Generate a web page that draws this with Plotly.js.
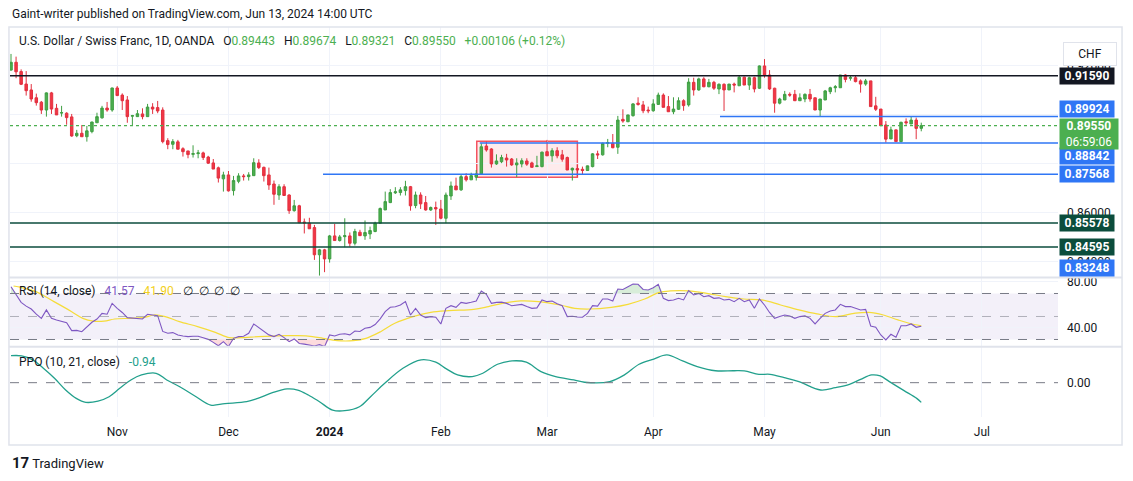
<!DOCTYPE html>
<html><head><meta charset="utf-8">
<script src="https://cdn.plot.ly/plotly-3.0.1.min.js"></script>
<style>html,body{margin:0;padding:0;background:#fff;}#chart{width:1133px;height:481px;}</style>
</head><body><div id="chart"></div>
<script>
// ---- Daily candles USD/CHF (Oct 3 2023 .. Jun 13 2024, trading days) ----
const opens=[.9182,.9214,.9176,.9125,.9101,.9069,.9051,.9019,.9089,.9026,
.9007,.9006,.8991,.8914,.8924,.8910,.8931,.8967,.8987,.9027,
.9019,.9109,.9080,.9060,.8994,.8992,.9003,.8992,.9031,.9029,
.9019,.8894,.8879,.8889,.8861,.8852,.8838,.8841,.8844,.8827,
.8803,.8783,.8738,.8754,.8690,.8728,.8750,.8747,.8751,.8803,
.8785,.8754,.8717,.8672,.8706,.8672,.8608,.8628,.8562,.8557,
.8539,.8428,.8448,.8411,.8505,.8486,.8502,.8505,.8475,.8520,
.8505,.8513,.8523,.8557,.8611,.8641,.8681,.8682,.8690,.8706,
.8629,.8672,.8641,.8611,.8621,.8615,.8577,.8668,.8709,.8693,
.8747,.8734,.8745,.8758,.8872,.8860,.8799,.8808,.8823,.8819,
.8795,.8799,.8811,.8803,.8788,.8788,.8849,.8832,.8853,.8836,
.8825,.8774,.8780,.8777,.8772,.8788,.8840,.8836,.8883,.8883,
.8867,.8981,.8971,.8996,.9047,.9040,.9019,.9016,.9042,.9080,
.9033,.9012,.9022,.9057,.9040,.9132,.9101,.9146,.9114,.9132,
.9105,.9124,.9101,.9125,.9118,.9153,.9121,.9151,.9108,.9199,
.9162,.9108,.9047,.9060,.9083,.9083,.9057,.9064,.9083,.9069,
.9019,.9060,.9094,.9110,.9110,.9162,.9149,.9151,.9138,.9125,
.9138,.9036,.9023,.8958,.8901,.8938,.8890,.8971,.8962,.8978,
.89443];
const highs=[.9248,.9237,.9185,.9178,.9125,.9086,.9056,.9091,.9093,.9044,
.9036,.9010,.9003,.8938,.8958,.8954,.8971,.9008,.9036,.9052,
.9110,.9117,.9087,.9076,.8999,.9019,.9026,.9044,.9047,.9056,
.9030,.8904,.8900,.8897,.8867,.8852,.8875,.8856,.8849,.8832,
.8819,.8788,.8767,.8770,.8750,.8761,.8758,.8765,.8822,.8818,
.8788,.8784,.8731,.8716,.8716,.8675,.8652,.8632,.8576,.8579,
.8550,.8452,.8452,.8509,.8554,.8509,.8577,.8519,.8534,.8530,
.8568,.8543,.8563,.8621,.8686,.8696,.8704,.8704,.8730,.8709,
.8686,.8683,.8668,.8625,.8645,.8652,.8682,.8727,.8743,.8754,
.8761,.8763,.8774,.8883,.8890,.8863,.8838,.8836,.8840,.8823,
.8822,.8822,.8822,.8808,.8832,.8849,.8897,.8863,.8867,.8856,
.8829,.8784,.8795,.8788,.8792,.8843,.8853,.8886,.8901,.8921,
.8995,.9022,.8999,.9047,.9071,.9056,.9033,.9063,.9090,.9087,
.9076,.9071,.9071,.9063,.9149,.9151,.9151,.9153,.9146,.9138,
.9128,.9128,.9125,.9131,.9158,.9155,.9155,.9155,.9201,.9227,
.9182,.9110,.9069,.9097,.9091,.9101,.9087,.9087,.9105,.9069,
.9064,.9101,.9114,.9121,.9162,.9165,.9162,.9159,.9144,.9146,
.9138,.9073,.9023,.8974,.8951,.8938,.8971,.8985,.8992,.8988,
.89674];
const lows=[.9180,.9149,.9121,.9078,.9053,.9037,.9003,.8992,.9003,.8999,
.8992,.8959,.8910,.8908,.8910,.8890,.8924,.8967,.8984,.9012,
.9012,.9076,.9019,.8967,.8955,.8992,.8981,.8992,.9003,.9006,
.8883,.8859,.8859,.8859,.8829,.8822,.8825,.8822,.8815,.8799,
.8778,.8723,.8686,.8686,.8670,.8720,.8731,.8731,.8750,.8778,
.8727,.8693,.8632,.8652,.8670,.8595,.8604,.8557,.8515,.8534,
.8407,.8343,.8357,.8396,.8486,.8482,.8459,.8461,.8466,.8505,
.8489,.8492,.8520,.8557,.8611,.8639,.8676,.8670,.8670,.8608,
.8618,.8615,.8608,.8607,.8550,.8573,.8557,.8652,.8693,.8689,
.8727,.8734,.8731,.8754,.8849,.8784,.8795,.8802,.8788,.8791,
.8745,.8785,.8791,.8784,.8788,.8785,.8832,.8808,.8822,.8808,
.8774,.8731,.8747,.8754,.8770,.8785,.8819,.8833,.8867,.8863,
.8840,.8967,.8971,.8992,.9037,.9006,.9006,.9012,.9040,.9030,
.9012,.9002,.9019,.9016,.9033,.9078,.9098,.9112,.9112,.9101,
.9084,.9015,.9101,.9091,.9118,.9121,.9101,.9091,.9105,.9151,
.9101,.9008,.9042,.9060,.9073,.9056,.9056,.9051,.9053,.9019,
.8992,.9060,.9084,.9091,.9110,.9132,.9139,.9132,.9090,.9118,
.9033,.9015,.8955,.8886,.8901,.8890,.8887,.8958,.8962,.8900,
.89321];
const closes=[.9214,.9175,.9124,.9098,.9064,.9049,.9019,.9089,.9023,.8999,
.9008,.8988,.8913,.8924,.8910,.8934,.8970,.8992,.9027,.9019,
.9109,.9078,.9057,.8992,.8996,.9004,.8992,.9031,.9023,.9015,
.8890,.8878,.8890,.8859,.8849,.8837,.8841,.8844,.8825,.8802,
.8778,.8741,.8754,.8689,.8731,.8750,.8747,.8754,.8804,.8784,
.8751,.8713,.8675,.8706,.8670,.8608,.8628,.8559,.8558,.8534,
.8428,.8448,.8411,.8505,.8486,.8501,.8506,.8475,.8523,.8506,
.8519,.8527,.8557,.8617,.8645,.8682,.8685,.8693,.8706,.8628,
.8672,.8636,.8611,.8621,.8615,.8577,.8672,.8709,.8693,.8747,
.8734,.8751,.8758,.8869,.8856,.8799,.8811,.8825,.8815,.8795,
.8803,.8812,.8798,.8785,.8791,.8847,.8832,.8853,.8832,.8818,
.8774,.8781,.8774,.8772,.8791,.8840,.8836,.8883,.8886,.8865,
.8978,.8974,.8999,.9044,.9042,.9016,.9016,.9044,.9080,.9030,
.9012,.9023,.9057,.9037,.9133,.9101,.9146,.9114,.9132,.9108,
.9124,.9101,.9125,.9121,.9153,.9121,.9151,.9105,.9199,.9162,
.9105,.9047,.9064,.9083,.9080,.9057,.9069,.9083,.9064,.9019,
.9064,.9097,.9110,.9114,.9162,.9144,.9151,.9135,.9125,.9138,
.9033,.9022,.8955,.8900,.8938,.8890,.8969,.8967,.8978,.8944,
.89550];
// ---- RSI(14) per candle ----
const rsi=[75.9,69.0,62.3,59.0,56.5,52.0,48.4,55.7,48.4,47.0,
46.0,44.6,37.7,37.9,36.8,41.2,45.0,47.8,52.7,52.0,
61.4,57.1,53.5,49.0,48.6,48.2,47.8,51.9,51.3,50.7,
37.0,35.4,36.0,33.9,33.0,32.5,32.8,32.8,31.5,30.1,
27.5,24.6,28.1,23.8,31.0,32.5,32.8,35.4,43.5,40.3,
36.8,34.0,32.5,34.5,31.6,28.1,30.5,26.5,26.0,25.2,
24.3,25.5,23.8,33.9,33.0,34.5,35.0,34.0,37.4,37.0,
39.7,40.5,43.0,48.0,54.2,58.0,58.5,60.0,62.9,51.3,
57.1,51.3,49.0,49.9,49.4,43.5,57.1,59.4,58.0,62.3,
61.4,62.3,63.5,72.2,69.3,61.4,62.3,62.5,61.4,59.4,
60.0,60.5,58.6,57.1,57.5,64.4,62.9,63.5,61.0,59.4,
49.9,50.2,49.5,49.3,52.7,59.4,59.0,65.2,65.2,63.5,
73.9,73.5,75.9,78.3,78.0,73.5,73.0,75.0,78.0,65.8,
63.8,64.4,65.8,64.4,72.5,68.7,70.1,67.2,68.1,65.8,
66.2,64.4,64.9,62.9,65.8,62.9,64.4,57.1,65.2,60.0,
53.5,48.4,49.9,51.3,50.5,48.4,49.9,50.5,48.4,43.5,
48.4,52.7,54.8,55.7,60.6,58.6,58.6,57.1,55.7,56.2,
41.7,40.6,33.9,29.6,34.5,31.9,42.0,42.0,43.5,40.6,
41.57];
// ---- RSI-based MA, read points (bar position, value) ----
const rsiMaPos=[0.5,2.1,4.9,8.5,12.0,14.2,16.3,18.4,20.5,23.4,26.2,28.3,30.5,33.3,36.9,40.4,43.2,45.4,48.9,51.8,54.6,56.7,59.6,61.7,64.5,67.7,70.2,73.1,75.9,79.5,83.0,86.6,91.5,94.4,97.2,100.8,104.3,108.6,111.5,114.4,118.7,122.0,125.3,128.2,130.4,134.0,137.6,141.3,144.9,148.5,152.2,155.8,159.4,163.1,166.7,169.6,172.5,175.4,177.6,180.0];
const rsiMa=[76.5,75.1,71.6,62.9,54.2,48.4,46.0,46.0,47.8,48.4,49.0,51.3,49.9,45.5,41.2,36.2,31.6,31.6,32.5,33.0,33.3,33.3,32.5,31.0,29.0,29.0,31.0,36.8,44.1,49.9,53.6,55.1,56.2,58.6,61.4,63.5,62.9,60.0,57.1,56.5,58.0,60.6,65.2,71.0,72.2,72.2,70.1,67.2,65.2,64.4,60.0,55.7,52.2,49.9,52.7,53.6,51.3,47.0,44.1,41.9];
// ---- PPO(10,21), read points (bar position, value) ----
const ppoPos=[0.0,2.1,4.3,6.4,8.6,10.8,12.9,14.8,17.2,19.4,21.5,23.7,25.8,28.7,30.8,33.7,36.6,39.5,42.3,46.6,48.8,51.7,54.6,56.7,58.8,61.0,63.6,66.0,68.9,71.1,73.9,77.5,81.1,84.0,86.1,88.3,91.2,93.3,96.2,99.1,101.9,104.8,107.7,111.3,113.4,118.4,121.3,124.2,127.1,129.7,132.8,135.7,139.3,142.9,145.0,147.9,150.1,152.9,155.8,160.1,163.0,165.8,168.0,170.2,171.9,173.7,176.6,179.1,180.0];
const ppo=[1.29,1.28,1.09,0.69,0.21,-0.35,-0.75,-0.94,-0.88,-0.67,-0.27,0.13,0.37,0.45,0.13,-0.24,-0.67,-1.07,-1.00,-0.91,-0.75,-0.48,-0.30,-0.35,-0.59,-0.91,-1.31,-1.34,-1.15,-0.67,-0.03,0.69,1.09,0.98,0.66,0.37,0.29,0.45,0.88,1.04,0.98,0.53,0.29,0.13,0.02,0.05,0.37,0.88,1.13,1.33,1.04,0.77,0.57,0.57,0.56,0.40,0.40,0.24,0.05,-0.35,-0.24,-0.08,0.16,0.37,0.32,0.05,-0.38,-0.75,-0.94];
// ---- drawn horizontal levels ----
const levelPrices=[0.91590,0.89924,0.88842,0.87568,0.85578,0.84595,0.83248];
const levelColors=['#131722','#2f76f5','#2f76f5','#2f76f5','#0b4d3c','#0b4d3c','#2f76f5'];
const levelStarts=[-1,140.2,92.7,61.7,-1,-1,null];
const labelShift=[0,8,-13,0,0,0,0];
// ---- time axis ----
const tickPos=[21,43,63,85,106,127,149,172,192];
const tickText=['Nov','Dec','<b>2024</b>','Feb','Mar','Apr','May','Jun','Jul'];
// ---- price axis ticks (0.90 / 0.88 labels are covered by the level labels in the reference) ----
const priceTicks=[0.84,0.86,0.88,0.90,0.92];
const priceTickText=['0.84000','0.86000','','','0.92000'];

const FONT='Roboto, "Liberation Sans", Arial, sans-serif';
const n=closes.length;
const idx=closes.map((_,i)=>i);
const XR=[-0.2,207.04];
const GREEN='#4caf50', RED='#f23645';

const traces=[];
traces.push({type:'candlestick',x:idx,open:opens,high:highs,low:lows,close:closes,xaxis:'x',yaxis:'y',
  increasing:{line:{color:'#3f9f43',width:1},fillcolor:GREEN},
  decreasing:{line:{color:'#e2303f',width:1},fillcolor:RED},
  whiskerwidth:0,hoverinfo:'skip'});
traces.push({type:'scatter',mode:'lines',x:idx,y:idx.map(()=>70),xaxis:'x2',yaxis:'y2',line:{width:0},hoverinfo:'skip'});
traces.push({type:'scatter',mode:'lines',x:idx,y:rsi.map(v=>Math.max(v,70)),xaxis:'x2',yaxis:'y2',line:{width:0},fill:'tonexty',fillcolor:'rgba(76,175,80,0.22)',hoverinfo:'skip'});
traces.push({type:'scatter',mode:'lines',x:idx,y:idx.map(()=>30),xaxis:'x2',yaxis:'y2',line:{width:0},hoverinfo:'skip'});
traces.push({type:'scatter',mode:'lines',x:idx,y:rsi.map(v=>Math.min(v,30)),xaxis:'x2',yaxis:'y2',line:{width:0},fill:'tonexty',fillcolor:'rgba(242,54,69,0.18)',hoverinfo:'skip'});
traces.push({type:'scatter',mode:'lines',x:rsiMaPos,y:rsiMa,xaxis:'x2',yaxis:'y2',line:{color:'#f5dc3a',width:1.2,shape:'spline',smoothing:1},hoverinfo:'skip'});
traces.push({type:'scatter',mode:'lines',x:idx,y:rsi,xaxis:'x2',yaxis:'y2',line:{color:'#7e57c2',width:1.1},hoverinfo:'skip'});
traces.push({type:'scatter',mode:'lines',x:ppoPos,y:ppo,xaxis:'x3',yaxis:'y3',line:{color:'#22a08c',width:1.3,shape:'spline',smoothing:1},hoverinfo:'skip'});

const shapes=[];
shapes.push({type:'rect',xref:'paper',yref:'y2',x0:0,x1:1,y0:30,y1:70,fillcolor:'rgba(126,87,194,0.09)',line:{width:0},layer:'below'});
[70,30].forEach(v=>shapes.push({type:'line',xref:'paper',yref:'y2',x0:0,x1:1,y0:v,y1:v,line:{color:'#787b86',width:1,dash:'dash'}}));
shapes.push({type:'line',xref:'paper',yref:'y2',x0:0,x1:1,y0:50,y1:50,line:{color:'rgba(120,123,134,0.55)',width:1,dash:'dash'}});
shapes.push({type:'line',xref:'paper',yref:'y3',x0:0,x1:1,y0:0,y1:0,line:{color:'#787b86',width:1,dash:'dash'}});
shapes.push({type:'rect',xref:'x',yref:'y',x0:92.1,x1:112.0,y0:0.87443,y1:0.88913,fillcolor:'rgba(242,54,69,0.10)',line:{color:'rgba(242,54,69,0.85)',width:1.5},layer:'below'});
levelPrices.forEach((p,i)=>{
  if(levelStarts[i]===null) return;
  shapes.push({type:'line',xref:'x',yref:'y',x0:levelStarts[i],x1:XR[1]+5,y0:p,y1:p,line:{color:levelColors[i],width:1.5}});
});
const last=closes[n-1];
shapes.push({type:'line',xref:'paper',yref:'y',x0:0,x1:1,y0:last,y1:last,line:{color:GREEN,width:1.2,dash:'dot'}});
shapes.push({type:'rect',xref:'paper',yref:'paper',x0:-0.001,x1:1.0611,y0:-0.0718,y1:1.0,line:{color:'#e0e3eb',width:1.5},fillcolor:'rgba(0,0,0,0)'});
[0.3577,0.1803].forEach(v=>shapes.push({type:'line',xref:'paper',yref:'paper',x0:-0.001,x1:1.0611,y0:v,y1:v,line:{color:'#e0e3eb',width:2}}));

const ann=[];
const nb='\u00a0';
ann.push({xref:'paper',yref:'paper',x:0,y:1.0333,xanchor:'left',yanchor:'middle',showarrow:false,
  text:'Gaint-writer published on TradingView.com, Jun 13, 2024 14:00 UTC',font:{size:12,color:'#131722'}});
const g=s=>'<span style="color:#4caf50">'+s+'</span>';
ann.push({xref:'paper',yref:'paper',x:0.0067,y:0.9641,xanchor:'left',yanchor:'middle',showarrow:false,
  text:'U.S. Dollar / Swiss Franc, 1D, OANDA'+nb+nb+' O'+g(opens[n-1].toFixed(5))+nb+nb+' H'+g(highs[n-1].toFixed(5))+nb+nb+' L'+g(lows[n-1].toFixed(5))+nb+nb+' C'+g(closes[n-1].toFixed(5))+nb+nb+' '+g('+0.00106 (+0.12%)'),
  font:{size:12,color:'#131722'}});
ann.push({xref:'paper',yref:'paper',x:0.0067,y:0.3231,xanchor:'left',yanchor:'middle',showarrow:false,
  text:'RSI (14, close)'+nb+nb+' <span style="color:#7e57c2">'+rsi[n-1].toFixed(2)+'</span>'+nb+nb+' <span style="color:#f2d020">'+rsiMa[rsiMa.length-1].toFixed(2)+'</span>'+nb+nb+' ∅'+nb+nb+'∅'+nb+nb+'∅'+nb+nb+'∅',
  font:{size:12,color:'#131722'}});
ann.push({xref:'paper',yref:'paper',x:0.0067,y:0.141,xanchor:'left',yanchor:'middle',showarrow:false,
  text:'PPO (10, 21, close)'+nb+nb+' <span style="color:#22a08c">'+ppo[ppo.length-1].toFixed(2)+'</span>',
  font:{size:12,color:'#131722'}});
ann.push({xref:'paper',yref:'paper',x:1.0045,y:0.9308,xanchor:'left',yanchor:'middle',showarrow:false,
  text:'CHF',width:50,height:20,bgcolor:'#ffffff',bordercolor:'#e0e3eb',borderwidth:1,font:{size:12,color:'#131722'}});
ann.push({xref:'paper',yref:'paper',x:0,y:-0.118,xanchor:'left',yanchor:'middle',showarrow:false,
  text:'<span style="font-size:15px"><b>17</b></span> TradingView',font:{size:13,color:'#131722'}});
levelPrices.forEach((p,i)=>{
  const a={xref:'paper',x:1,xanchor:'left',xshift:1,yanchor:'middle',showarrow:false,
    text:'<b>'+p.toFixed(5)+'</b>',bgcolor:levelColors[i],font:{size:12,color:'#ffffff'},width:52,height:14,borderpad:1};
  if(levelStarts[i]===null){a.yref='paper';a.y=0.382;}else{a.yref='y';a.y=p;a.yshift=labelShift[i];}
  ann.push(a);
});
ann.push({xref:'paper',yref:'y',x:1,y:last,xanchor:'left',yanchor:'top',xshift:1,yshift:8,showarrow:false,
  text:'<b>'+last.toFixed(5)+'</b><br>06:59:06',bgcolor:GREEN,font:{size:12,color:'#ffffff'},width:56,height:28,borderpad:1,align:'center'});

const xCommon={range:XR,tickvals:tickPos,ticktext:tickText,showgrid:true,gridcolor:'#f0f3fa',gridwidth:1,zeroline:false,showline:false,ticks:'',fixedrange:true};
const yCommon={side:'right',zeroline:false,showline:false,ticks:'',fixedrange:true,gridcolor:'#f0f3fa',ticklabelstandoff:8,tickfont:{size:12,color:'#131722'}};
const layout={width:1133,height:481,margin:{l:10,r:75,t:27,b:64},paper_bgcolor:'#ffffff',plot_bgcolor:'#ffffff',
  showlegend:false,hovermode:false,dragmode:false,font:{family:FONT,size:12,color:'#131722'},
  xaxis:Object.assign({},xCommon,{anchor:'y',showticklabels:false,rangeslider:{visible:false}}),
  xaxis2:Object.assign({},xCommon,{anchor:'y2',showticklabels:false}),
  xaxis3:Object.assign({},xCommon,{anchor:'y3',showticklabels:true,tickfont:{size:12,color:'#131722'},ticklabelstandoff:6}),
  yaxis:Object.assign({},yCommon,{anchor:'x',domain:[0.3577,1],range:[0.83352,0.93580],tickvals:priceTicks,ticktext:priceTickText,showgrid:true}),
  yaxis2:Object.assign({},yCommon,{anchor:'x2',domain:[0.1803,0.3577],range:[23.74,83.9],tickvals:[40,80],ticktext:['40.00','80.00'],showgrid:true}),
  yaxis3:Object.assign({},yCommon,{anchor:'x3',domain:[0,0.1803],range:[-1.64,1.72],tickvals:[0],ticktext:['0.00'],showgrid:false}),
  shapes:shapes,annotations:ann};
Plotly.newPlot('chart',traces,layout,{staticPlot:true,displayModeBar:false});
</script></body></html>
